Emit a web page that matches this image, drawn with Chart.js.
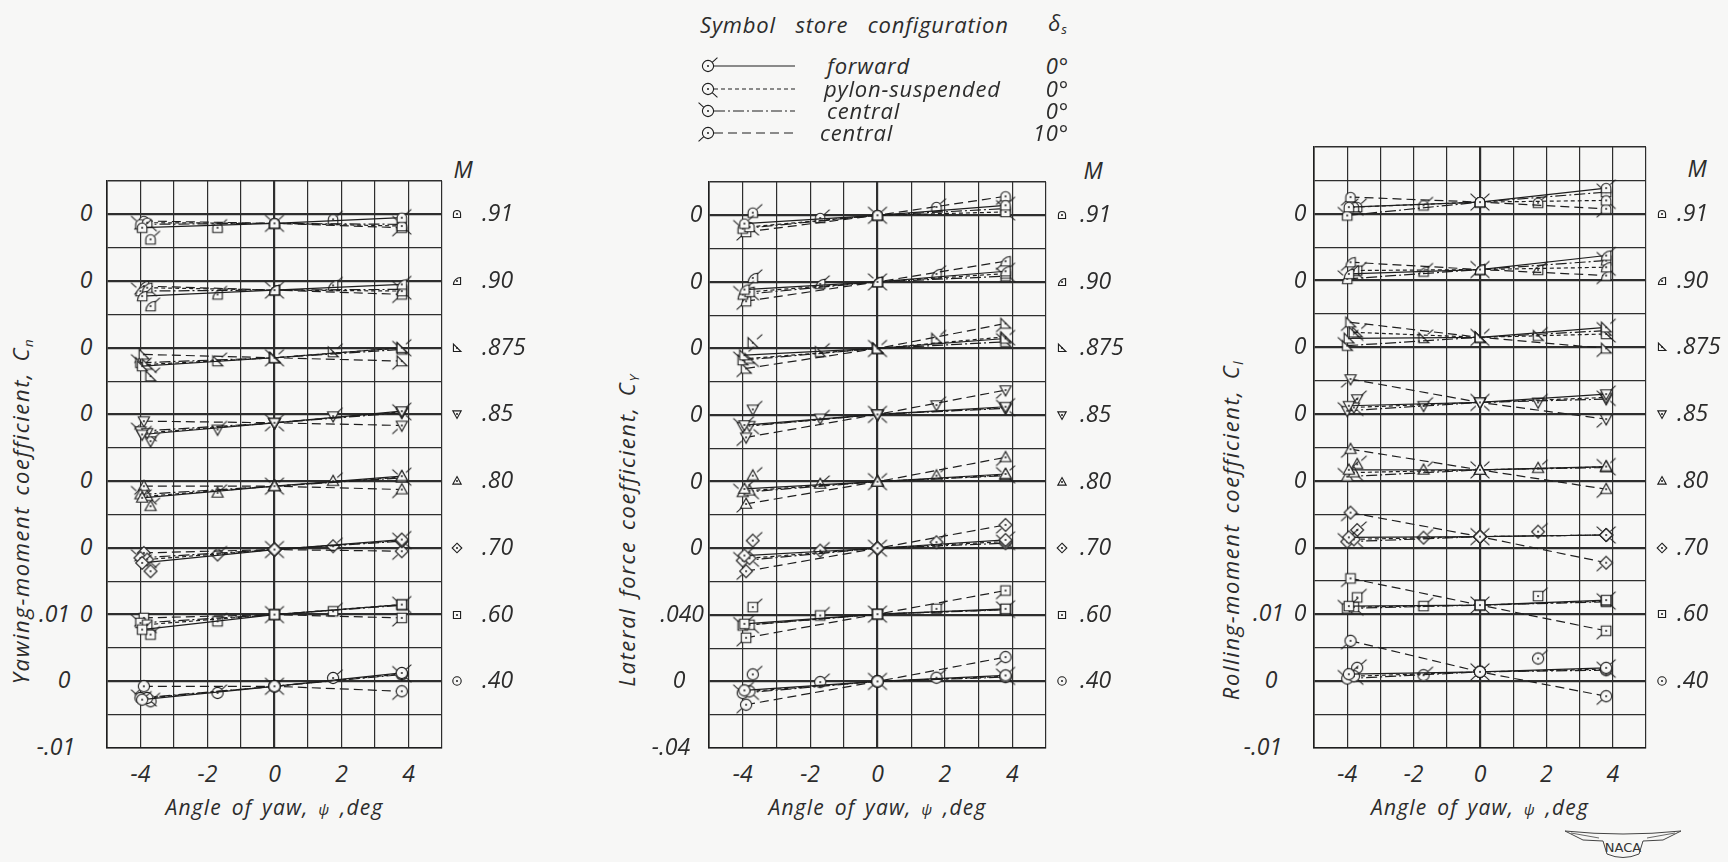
<!DOCTYPE html>
<html>
<head>
<meta charset="utf-8">
<script src="https://cdn.jsdelivr.net/npm/chart.js@4.4.1/dist/chart.umd.min.js"></script>
<style>
  html, body { margin: 0; padding: 0; background: #f7f7f6; }
  body {
    width: 1728px; height: 862px; position: relative; overflow: hidden;
    font-family: "Open Sans", "DejaVu Sans", sans-serif;
    font-style: italic; font-weight: 400; color: #2c2c2c;
  }
  canvas { position: absolute; }
  .t { position: absolute; white-space: nowrap; line-height: 1; }
  .tick { font-size: 23px; }
  .title { font-size: 21px; letter-spacing: 1.2px; word-spacing: 3px; }
  .ytitle { font-size: 22px; letter-spacing: 1.6px; word-spacing: 3px; }
  .leg { font-size: 22px; letter-spacing: 0.8px; }
  sub { font-size: 60%; vertical-align: -0.25em; }
</style>
</head>
<body>
<script>
// ---- Mach numbers, top curve first ----
const machLabels = ['.91', '.90', '.875', '.85', '.80', '.70', '.60', '.40'];

// ---- Angle of yaw (deg) at which each store configuration was run ----
const psiForward   = [-3.95, 0, 3.8];
const psiPylon     = [-3.8, 0, 3.8];
const psiCentral0  = [-4.0, 0, 3.8];
const psiCentral10 = [-3.9, 0, 3.8];
const psiRepeat    = [-3.7, -1.7, 1.75];   // extra forward-store runs, not faired

// ---- x-axis ticks ----
const xTickValues = [-4, -2, 0, 2, 4];
const xTickLabels = ['-4', '-2', '0', '2', '4'];

// ---- Yawing-moment coefficient Cn (one row per Mach number) ----
const cnForward = [
  [-0.0020, -0.00135, -0.0005], [-0.00225, -0.00135, -0.0005], [-0.00275, -0.0015, 0.0],
  [-0.0030, -0.00125, 0.0005], [-0.0025, -0.00075, 0.00075], [-0.00225, -0.00025, 0.00125],
  [-0.00225, 0.0, 0.0015], [-0.00275, -0.00075, 0.00125]];
const cnPylon = [
  [-0.00125, -0.00135, -0.00175], [-0.0010, -0.00135, -0.0015], [-0.0025, -0.0015, 0.0],
  [-0.00275, -0.00125, 0.0004], [-0.00225, -0.00075, 0.0006], [-0.00175, -0.00025, 0.0011],
  [-0.0015, 0.0, 0.0015], [-0.0025, -0.00075, 0.0011]];
const cnCentral0 = [
  [-0.0015, -0.00135, -0.0015], [-0.0015, -0.00135, -0.00125], [-0.00225, -0.0015, -0.00025],
  [-0.0025, -0.00125, 0.00025], [-0.0020, -0.00075, 0.0005], [-0.0015, -0.00025, 0.0010],
  [-0.00125, 0.0, 0.0014], [-0.0025, -0.00075, 0.0010]];
const cnCentral10 = [
  [-0.0010, -0.00135, -0.0020], [-0.00075, -0.00135, -0.0020], [-0.0010, -0.0015, -0.0020],
  [-0.0010, -0.00125, -0.00165], [-0.00075, -0.00075, -0.00125], [-0.00075, -0.00025, -0.0005],
  [-0.0005, 0.0, -0.0005], [-0.00075, -0.00075, -0.0015]];
const cnRepeat = [
  [-0.00375, -0.0020, -0.00075], [-0.00375, -0.0020, -0.00065], [-0.00425, -0.0020, -0.00065],
  [-0.0040, -0.00225, -0.00025], [-0.00375, -0.00175, 0.0], [-0.0035, -0.0010, 0.00025],
  [-0.0030, -0.0010, 0.0005], [-0.0030, -0.00175, 0.0005]];

// ---- Lateral force coefficient CY ----
const cyForward = [
  [-0.0050, 0.0, 0.0060], [-0.0046, 0.0, 0.0064], [-0.0040, 0.0, 0.0060],
  [-0.0060, 0.0004, 0.0050], [-0.0044, 0.0, 0.0046], [-0.0044, 0.0, 0.0050],
  [-0.0054, 0.0004, 0.0036], [-0.0054, 0.0, 0.0036]];
const cyPylon = [
  [-0.0070, 0.0, 0.0020], [-0.0060, 0.0, 0.0050], [-0.0060, 0.0, 0.0070],
  [-0.0064, 0.0004, 0.0044], [-0.0054, 0.0, 0.0040], [-0.0060, 0.0, 0.0040],
  [-0.0060, 0.0004, 0.0032], [-0.0060, 0.0, 0.0030]];
const cyCentral0 = [
  [-0.0080, 0.0, 0.0040], [-0.0076, 0.0, 0.0034], [-0.0070, 0.0, 0.0040],
  [-0.0070, 0.0004, 0.0040], [-0.0064, 0.0, 0.0036], [-0.0074, 0.0, 0.0030],
  [-0.0064, 0.0004, 0.0030], [-0.0070, 0.0, 0.0026]];
const cyCentral10 = [
  [-0.0100, 0.0, 0.0114], [-0.0116, 0.0, 0.0124], [-0.0120, 0.0, 0.0150],
  [-0.0134, 0.0004, 0.0150], [-0.0134, 0.0, 0.0146], [-0.0138, 0.0, 0.0140],
  [-0.0138, 0.0004, 0.0146], [-0.0140, 0.0, 0.0146]];
const cyRepeat = [
  [0.0016, -0.0016, 0.0050], [0.0024, -0.0012, 0.0048], [0.0034, -0.0020, 0.0060],
  [0.0034, -0.0020, 0.0060], [0.0036, -0.0014, 0.0036], [0.0046, -0.0014, 0.0036],
  [0.0046, -0.0004, 0.0036], [0.0042, -0.0004, 0.0022]];

// ---- Rolling-moment coefficient Cl ----
const clForward = [
  [0.0010, 0.00175, 0.00385], [0.0010, 0.00165, 0.00375], [0.00135, 0.0015, 0.0030],
  [0.00125, 0.00175, 0.0030], [0.00165, 0.00165, 0.00215], [0.00155, 0.00165, 0.0019],
  [0.00125, 0.0014, 0.00215], [0.00105, 0.0014, 0.0020]];
const clPylon = [
  [0.0010, 0.00175, 0.0020], [0.0015, 0.00165, 0.0020], [0.00225, 0.0015, 0.0020],
  [0.0010, 0.00175, 0.0025], [0.00125, 0.00165, 0.0021], [0.00125, 0.00165, 0.0019],
  [0.0011, 0.0014, 0.0020], [0.00075, 0.0014, 0.0018]];
const clCentral0 = [
  [-0.00025, 0.00175, 0.00325], [0.00025, 0.00165, 0.0030], [0.00025, 0.0015, 0.0025],
  [0.0005, 0.00175, 0.00225], [0.00065, 0.00165, 0.0020], [0.0009, 0.00165, 0.0019],
  [0.0009, 0.0014, 0.0019], [0.0004, 0.0014, 0.00165]];
const clCentral10 = [
  [0.0025, 0.00175, 0.00075], [0.00275, 0.00165, 0.00075], [0.00375, 0.0015, -0.00015],
  [0.00525, 0.00175, -0.00075], [0.00475, 0.00165, -0.00125], [0.00525, 0.00165, -0.00225],
  [0.0054, 0.0014, -0.00245], [0.00605, 0.0014, -0.00225]];
const clRepeat = [
  [0.0010, 0.00125, 0.00165], [0.0015, 0.00135, 0.0016], [0.00225, 0.0014, 0.00175],
  [0.00225, 0.00125, 0.00175], [0.0025, 0.00165, 0.0019], [0.00265, 0.0015, 0.0024],
  [0.00255, 0.00125, 0.00275], [0.0020, 0.0009, 0.0034]];

// ---- drawing style ----
const INK = '#1e1e1e';
const GRID = '#2e2e2e';
const PAPER = '#f7f7f6';
const PAD = 8;
const MARK_R = 5.6;

// symbol used for each Mach number (same order as machLabels)
const machShapes = ['tomb', 'quarter', 'rightTri', 'triDown', 'triUp', 'diamond', 'square', 'circle'];

const FLAG = {
  forward:   [0.75, -0.66],
  pylon:     [0.75, 0.66],
  central0:  [-0.75, -0.66],
  central10: [-0.75, 0.66]
};

const configs = [
  { key: 'forward',   name: 'forward, 0°',          psi: psiForward,   dash: [],             flag: FLAG.forward },
  { key: 'pylon',     name: 'pylon-suspended, 0°',  psi: psiPylon,     dash: [4, 3],         flag: FLAG.pylon },
  { key: 'central0',  name: 'central, 0°',          psi: psiCentral0,  dash: [11, 3, 2, 3],  flag: FLAG.central0 },
  { key: 'central10', name: 'central, 10°',         psi: psiCentral10, dash: [9, 5],         flag: FLAG.central10 }
];

function shapePath(g, shape, cx, cy, r) {
  const a = r * 0.85;
  g.beginPath();
  switch (shape) {
    case 'circle': g.arc(cx, cy, r, 0, Math.PI * 2); break;
    case 'square': g.rect(cx - a, cy - a, 2 * a, 2 * a); break;
    case 'diamond':
      g.moveTo(cx, cy - r * 1.15); g.lineTo(cx + r * 1.15, cy);
      g.lineTo(cx, cy + r * 1.15); g.lineTo(cx - r * 1.15, cy); g.closePath(); break;
    case 'triUp':
      g.moveTo(cx, cy - r * 1.05); g.lineTo(cx + r, cy + r * 0.75);
      g.lineTo(cx - r, cy + r * 0.75); g.closePath(); break;
    case 'triDown':
      g.moveTo(cx, cy + r * 1.05); g.lineTo(cx + r, cy - r * 0.75);
      g.lineTo(cx - r, cy - r * 0.75); g.closePath(); break;
    case 'rightTri':
      g.moveTo(cx - a, cy - a * 1.1); g.lineTo(cx - a, cy + a);
      g.lineTo(cx + a * 1.1, cy + a); g.closePath(); break;
    case 'quarter':
      g.moveTo(cx + a, cy + a); g.lineTo(cx - a, cy + a);
      g.arc(cx + a, cy + a, 2 * a, Math.PI, Math.PI * 1.5); g.closePath(); break;
    case 'tomb':
      g.moveTo(cx - a, cy + a); g.lineTo(cx - a, cy);
      g.arc(cx, cy, a, Math.PI, 0); g.lineTo(cx + a, cy + a); g.closePath(); break;
  }
}

function makeMarker(shape, flag, r) {
  const S = 34;
  const c = document.createElement('canvas');
  c.width = S; c.height = S;
  const g = c.getContext('2d');
  const m = S / 2;
  g.lineWidth = 1.1; g.strokeStyle = INK; g.fillStyle = PAPER;
  shapePath(g, shape, m, m, r);
  g.fill(); g.stroke();
  g.beginPath(); g.arc(m, m, 1, 0, Math.PI * 2); g.fillStyle = INK; g.fill();
  if (flag) {
    g.beginPath();
    g.moveTo(m + flag[0] * r, m + flag[1] * r);
    g.lineTo(m + flag[0] * (r + 7), m + flag[1] * (r + 7));
    g.stroke();
  }
  return c;
}

const panels = [
  {
    left: 107, top: 181, right: 442, bottom: 748, yMin: -0.01, rows: 17, step: 0.005, offset: 0.01,
    series: { forward: cnForward, pylon: cnPylon, central0: cnCentral0, central10: cnCentral10 }, repeat: cnRepeat,
    zeroX: 86, scaleX: 60, scaleTop: '.01', scaleBottom: '-.01', scaleTopMode: 'split',
    symX: 457, valX: 482, mX: 463, mY: 171,
    yTitle: 'Yawing-moment coefficient, C<sub>n</sub>', yTitleX: 22, yTitleY: 511
  },
  {
    left: 709, top: 182, right: 1046, bottom: 748, yMin: -0.04, rows: 17, step: 0.02, offset: 0.04,
    series: { forward: cyForward, pylon: cyPylon, central0: cyCentral0, central10: cyCentral10 }, repeat: cyRepeat,
    zeroX: 696, scaleX: 675, scaleTop: '.040', scaleBottom: '-.04', scaleTopMode: 'whole',
    symX: 1062, valX: 1080, mX: 1093, mY: 172,
    yTitle: 'Lateral force coefficient, C<sub>Y</sub>', yTitleX: 628, yTitleY: 530
  },
  {
    left: 1314, top: 147, right: 1646, bottom: 748, yMin: -0.01, rows: 18, step: 0.005, offset: 0.01,
    series: { forward: clForward, pylon: clPylon, central0: clCentral0, central10: clCentral10 }, repeat: clRepeat,
    zeroX: 1300, scaleX: 1267, scaleTop: '.01', scaleBottom: '-.01', scaleTopMode: 'split',
    symX: 1662, valX: 1677, mX: 1697, mY: 170,
    yTitle: 'Rolling-moment coefficient, C<sub>l</sub>', yTitleX: 1232, yTitleY: 530
  }
];

function addText(html, x, y, cls, anchor) {
  const d = document.createElement('div');
  d.className = 't ' + (cls || '');
  d.innerHTML = html;
  d.style.left = x + 'px';
  d.style.top = y + 'px';
  const tx = anchor === 'left' ? '0' : anchor === 'right' ? '-100%' : '-50%';
  d.style.transform = `translate(${tx}, -55%)`;
  document.body.appendChild(d);
  return d;
}

function buildDatasets(p) {
  const ds = [];
  const n = machLabels.length;
  machLabels.forEach((m, i) => {
    const off = (n - 1 - i) * p.offset;
    const shape = machShapes[i];
    configs.forEach(cfg => {
      const vals = p.series[cfg.key][i];
      ds.push({
        label: `M = ${m}, ${cfg.name}`,
        data: cfg.psi.map((x, j) => ({ x, y: vals[j] + off })),
        showLine: true, borderColor: INK, borderWidth: 1.2, borderDash: cfg.dash,
        tension: 0, fill: false,
        pointStyle: makeMarker(shape, cfg.flag, MARK_R), pointRadius: 5
      });
    });
    ds.push({
      label: `M = ${m}, forward, repeat runs`,
      data: psiRepeat.map((x, j) => ({ x, y: p.repeat[i][j] + off })),
      showLine: false,
      pointStyle: makeMarker(shape, FLAG.forward, MARK_R), pointRadius: 5
    });
  });
  return ds;
}

panels.forEach(p => {
  const w = p.right - p.left, h = p.bottom - p.top;
  const cv = document.createElement('canvas');
  cv.width = w + 2 * PAD; cv.height = h + 2 * PAD;
  cv.style.left = (p.left - PAD) + 'px';
  cv.style.top = (p.top - PAD) + 'px';
  document.body.appendChild(cv);

  const yMax = p.yMin + p.rows * p.step;
  const rowIndex = v => Math.round((v - p.yMin) / p.step);

  const chart = new Chart(cv.getContext('2d'), {
    type: 'scatter',
    data: { datasets: buildDatasets(p) },
    options: {
      responsive: false, animation: false, devicePixelRatio: 1, events: [],
      layout: { padding: PAD },
      plugins: { legend: { display: false }, tooltip: { enabled: false } },
      scales: {
        x: {
          type: 'linear', min: -5, max: 5,
          ticks: { display: false, stepSize: 1 },
          afterBuildTicks: s => { s.ticks = []; for (let v = -5; v <= 5; v++) s.ticks.push({ value: v }); },
          afterFit: s => { s.height = 0; },
          grid: { drawTicks: false, color: GRID, lineWidth: c => (c.tick && c.tick.value === 0 ? 2.2 : 1.2) },
          border: { display: true, color: INK, width: 1.6 }
        },
        y: {
          type: 'linear', min: p.yMin, max: yMax,
          ticks: { display: false },
          afterBuildTicks: s => { s.ticks = []; for (let k = 0; k <= p.rows; k++) s.ticks.push({ value: p.yMin + k * p.step }); },
          afterFit: s => { s.width = 0; },
          grid: {
            drawTicks: false, color: GRID,
            lineWidth: c => {
              if (!c.tick) return 1.2;
              const k = rowIndex(c.tick.value);
              return (k >= 2 && k <= 16 && k % 2 === 0) ? 2.3 : (k === p.rows ? 1.6 : 1.2);
            }
          },
          border: { display: true, color: INK, width: 1.6 }
        }
      }
    }
  });

  const ox = p.left - PAD, oy = p.top - PAD;
  const py = v => oy + chart.scales.y.getPixelForValue(v);
  const px = v => ox + chart.scales.x.getPixelForValue(v);
  const n = machLabels.length;

  // left-hand zero labels and coefficient scale
  const firstZero = p.scaleTopMode === 'split' ? 1 : 2;
  for (let k = firstZero; k < n; k++) addText('0', p.zeroX, py(k * p.offset), 'tick', 'center');
  if (p.scaleTopMode === 'split') {
    addText(p.scaleTop, p.zeroX - 16, py(p.offset), 'tick', 'right');
  } else {
    addText(p.scaleTop, p.zeroX + 8, py(p.offset), 'tick', 'right');
  }
  addText('0', p.scaleX + 4, py(0), 'tick', 'center');
  addText(p.scaleBottom, p.scaleX - 4, py(p.yMin), 'tick', 'center');

  // Mach-number key on the right
  addText('M', p.mX, p.mY, 'tick', 'center');
  machLabels.forEach((m, i) => {
    const yy = py((n - 1 - i) * p.offset);
    const sc = makeMarker(machShapes[i], null, 4.2);
    sc.style.left = (p.symX - 17) + 'px';
    sc.style.top = (yy - 17) + 'px';
    document.body.appendChild(sc);
    addText(m, p.valX, yy, 'tick', 'left');
  });

  // x ticks and title
  xTickValues.forEach((v, j) => addText(xTickLabels[j], px(v), 775, 'tick', 'center'));
  addText('Angle of yaw, <span style="font-size:15px">ψ</span> ,deg', px(0), 809, 'title', 'center');

  // y title (rotated)
  const yt = addText(p.yTitle, p.yTitleX, p.yTitleY, 'ytitle', 'center');
  yt.style.transform = 'translate(-50%, -50%) rotate(-90deg)';
});

// ---- configuration key at the top ----
addText('Symbol&nbsp;&nbsp; store&nbsp;&nbsp; configuration', 700, 25, 'leg', 'left');
addText('δ<sub>s</sub>', 1058, 25, 'leg', 'center');
const legendRows = [
  { cfg: configs[0], text: 'forward', x: 827, deg: '0°', y: 66 },
  { cfg: configs[1], text: 'pylon-suspended', x: 824, deg: '0°', y: 89 },
  { cfg: configs[2], text: 'central', x: 827, deg: '0°', y: 111 },
  { cfg: configs[3], text: 'central', x: 820, deg: '10°', y: 133 }
];
legendRows.forEach(r => {
  const c = document.createElement('canvas');
  c.width = 110; c.height = 24;
  c.style.left = '692px'; c.style.top = (r.y - 12) + 'px';
  const g = c.getContext('2d');
  g.strokeStyle = INK; g.lineWidth = 1.2; g.setLineDash(r.cfg.dash);
  g.beginPath(); g.moveTo(22, 12); g.lineTo(103, 12); g.stroke();
  g.setLineDash([]);
  g.drawImage(makeMarker('circle', r.cfg.flag, 5.6), 16 - 17, 12 - 17);
  document.body.appendChild(c);
  addText(r.text, r.x, r.y, 'leg', 'left');
  addText(r.deg, 1069, r.y, 'leg', 'right');
});

// ---- NACA emblem ----
const logo = document.createElement('div');
logo.className = 't';
logo.style.left = '1563px'; logo.style.top = '828px';
logo.innerHTML = `<svg width="120" height="34" viewBox="0 0 120 34">
  <path d="M2 3 Q60 9 118 3 L100 12 L80 13 L76 26 Q60 33 44 26 L40 13 L20 12 Z" fill="none" stroke="#444" stroke-width="1"/>
  <path d="M8 5 L36 10 M112 5 L84 10" stroke="#444" stroke-width="0.8"/>
  <text x="60" y="24" text-anchor="middle" font-family="DejaVu Sans, sans-serif" font-style="normal" font-size="13" fill="#333">NACA</text>
</svg>`;
document.body.appendChild(logo);
</script>
</body>
</html>
